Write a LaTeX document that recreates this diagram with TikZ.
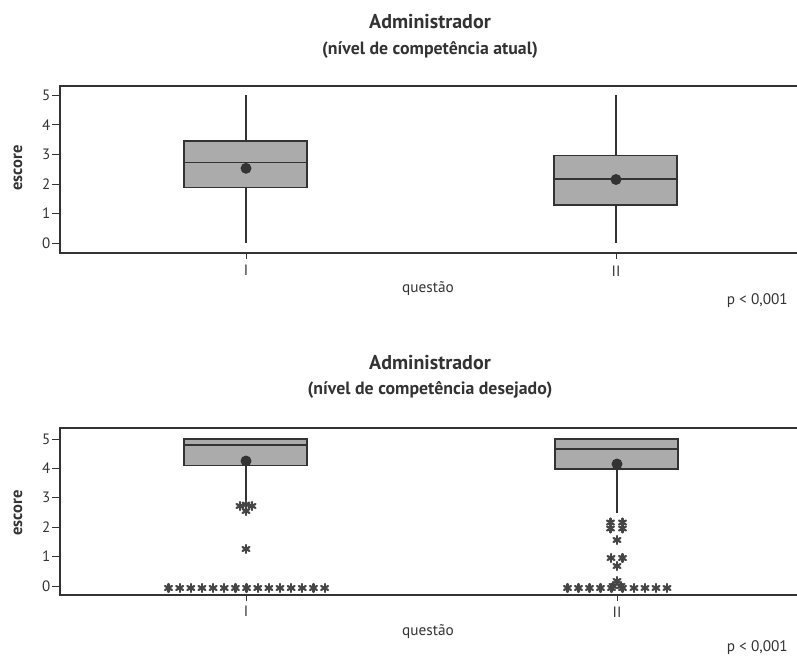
\documentclass[tikz,border=0pt]{standalone}
\usepackage{fontspec}
\setmainfont{PT Sans}
\definecolor{ink}{HTML}{333333}
\definecolor{boxfill}{HTML}{ABABAB}
\definecolor{astc}{HTML}{454545}
\tikzset{
  frameline/.style={draw=ink, line width=1.4pt},
  tickline/.style={draw=ink, line width=1pt},
  boxstyle/.style={draw=ink, fill=boxfill, line width=1.2pt},
  whisk/.style={draw=ink, line width=1.3pt},
  meandot/.style={fill=ink},
  ticklbl/.style={font=\fontsize{15}{17}\selectfont, text=ink, anchor=east, inner sep=0pt},
  xlbl/.style={font=\fontsize{15}{17}\selectfont, text=ink, inner sep=0pt},
  axlbl/.style={font=\fontsize{15.3}{17}\selectfont, text=ink, inner sep=0pt},
  ylbl/.style={font=\bfseries\fontsize{16.5}{18}\selectfont, text=ink, rotate=90, inner sep=0pt},
  titlelbl/.style={font=\bfseries\fontsize{20}{22}\selectfont, text=ink, inner sep=0pt},
  sublbl/.style={font=\bfseries\fontsize{17.8}{20}\selectfont, text=ink, inner sep=0pt},
  ast/.pic={\foreach \a in {90,30,-30}{\draw[astc, line width=2.2pt, line cap=round] (\a:4) -- (\a+180:4);}}
}
\begin{document}
\begin{tikzpicture}[x=1pt, y=-1pt]
\useasboundingbox (0,0) rectangle (797,656);

% ================= TOP PLOT =================
\node[titlelbl] (t1) at (430,22) {Administrador};
\node[sublbl] (s1) at (430,50) {(nível de competência atual)};

\draw[frameline] (797,86) -- (60,86) -- (60,253) -- (797,253);
\foreach \v/\y in {0/243.3,1/213.6,2/184,3/154.3,4/124.7,5/95}{
  \draw[tickline] (52,\y) -- (60,\y);
  \node[ticklbl] (ty\v) at (50.5,\y) {\v};
}
\node[ylbl] (ye1) at (18,168) {escore};

% box I
\draw[whisk] (246,95) -- (246,243.3);
\draw[boxstyle] (184,140.9) rectangle (307,187.5);
\draw[whisk] (184,162.6) -- (307,162.6);
\fill[meandot] (246,168.3) circle (5.5);
% box II
\draw[whisk] (616,95) -- (616,243.3);
\draw[boxstyle] (554,155.2) rectangle (677,205);
\draw[whisk] (554,179) -- (677,179);
\fill[meandot] (616,179.5) circle (5.5);

\draw[tickline] (246,253) -- (246,259);
\draw[tickline] (616,253) -- (616,259);
\node[xlbl] (xi1) at (246,270) {I};
\node[xlbl] (xii1) at (616,271) {II};
\node[axlbl] (q1) at (428,289) {questão};
\node[axlbl, anchor=east] (p1) at (788,301) {p < 0,001};

% ================= BOTTOM PLOT =================
\node[titlelbl] (t2) at (430,363) {Administrador};
\node[sublbl] (s2) at (430,390) {(nível de competência desejado)};

\draw[frameline] (797,428) -- (60,428) -- (60,595) -- (797,595);
\foreach \v/\y in {0/586,1/556.6,2/527.2,3/497.8,4/468.4,5/439}{
  \draw[tickline] (52,\y) -- (60,\y);
  \node[ticklbl] (tz\v) at (50.5,\y) {\v};
}
\node[ylbl] (ye2) at (18,513) {escore};

% box I
\draw[whisk] (246,465.5) -- (246,505);
\draw[boxstyle] (184,439) rectangle (307,465.5);
\draw[whisk] (184,445) -- (307,445);
\fill[meandot] (246,461) circle (5.5);
% box II
\draw[whisk] (617,469) -- (617,513);
\draw[boxstyle] (555,439) rectangle (678,469);
\draw[whisk] (555,449) -- (678,449);
\fill[meandot] (617,464) circle (5.5);

% outliers I
\foreach \x/\y in {240/506,246/504.5,252/506,246/511,246/549}{
  \pic at (\x,\y) {ast};
}
\foreach \k in {0,...,14}{
  \pic at ({168.5+11.15*\k},588) {ast};
}
% outliers II
\foreach \x/\y in {610.5/522.5,622.5/522.5,610.5/528.5,622.5/528.5,617/540,
                   611/558,622.5/558,617/566,617/581,613/586,621/586}{
  \pic at (\x,\y) {ast};
}
\foreach \x in {567.5,578.5,589.5,600.5,611.5,622.5,634,645,656,667}{
  \pic at (\x,588) {ast};
}

\draw[tickline] (246,595) -- (246,601);
\draw[tickline] (617,595) -- (617,601);
\node[xlbl] (xi2) at (246,611) {I};
\node[xlbl] (xii2) at (617,612) {II};
\node[axlbl] (q2) at (428,632) {questão};
\node[axlbl, anchor=east] (p2) at (788,648) {p < 0,001};
\end{tikzpicture}
\end{document}
